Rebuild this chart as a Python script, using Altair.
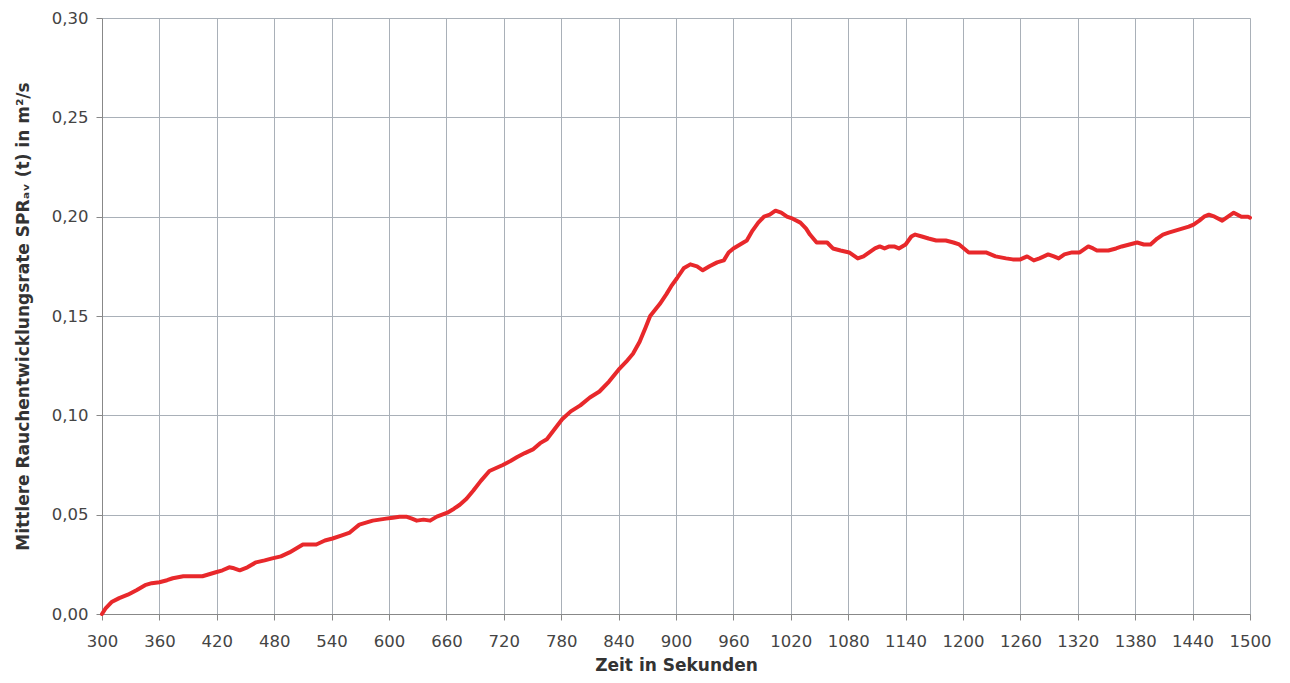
import altair as alt
import pandas as pd

# Time (s) and mean smoke production rate (m²/s)
zeit = [300, 304, 310, 318, 327, 336, 345, 352, 360, 368, 374, 385, 395, 405, 412, 419, 426, 433, 438, 444,
        452, 461, 470, 478, 487, 496, 503, 510, 517, 524, 533, 541, 550, 559, 564, 569, 576, 583, 590, 597,
        604, 611, 618, 624, 629, 636, 643, 650, 661, 668, 674, 681, 688, 696, 705, 712, 719, 727, 734, 742,
        751, 758, 765, 773, 781, 790, 800, 810, 820, 830, 840, 848, 855, 862, 868, 873, 878, 883, 890, 895,
        901, 908, 915, 922, 928, 935, 943, 950, 955, 960, 967, 974, 980, 986, 992, 998, 1004, 1010, 1016, 1022,
        1030, 1036, 1040, 1047, 1053, 1058, 1064, 1072, 1081, 1090, 1096, 1102, 1108, 1113, 1118, 1123, 1128, 1133, 1140, 1146,
        1150, 1157, 1164, 1172, 1182, 1190, 1196, 1201, 1206, 1214, 1224, 1234, 1245, 1252, 1260, 1267, 1274, 1280, 1289, 1295,
        1300, 1306, 1314, 1322, 1331, 1336, 1340, 1352, 1360, 1366, 1374, 1382, 1389, 1396, 1403, 1409, 1415, 1422, 1429, 1436,
        1441, 1447, 1452, 1457, 1463, 1471, 1477, 1483, 1487, 1491, 1498, 1500]
spr = [0.000, 0.003, 0.006, 0.008, 0.0097, 0.012, 0.0145, 0.0155, 0.016, 0.017, 0.018, 0.019, 0.019, 0.019, 0.020, 0.021, 0.022, 0.0235, 0.023, 0.022,
       0.0235, 0.026, 0.027, 0.028, 0.029, 0.031, 0.033, 0.035, 0.035, 0.035, 0.037, 0.038, 0.0395, 0.041, 0.043, 0.045, 0.046, 0.047, 0.0475, 0.048,
       0.0485, 0.049, 0.049, 0.048, 0.047, 0.0475, 0.047, 0.049, 0.051, 0.053, 0.055, 0.058, 0.062, 0.067, 0.072, 0.0735, 0.075, 0.077, 0.079, 0.081,
       0.083, 0.086, 0.088, 0.093, 0.098, 0.102, 0.105, 0.109, 0.112, 0.117, 0.123, 0.127, 0.131, 0.137, 0.144, 0.150, 0.153, 0.156, 0.161, 0.165,
       0.169, 0.174, 0.176, 0.175, 0.173, 0.175, 0.177, 0.178, 0.182, 0.184, 0.186, 0.188, 0.193, 0.197, 0.200, 0.201, 0.203, 0.202, 0.200, 0.199,
       0.197, 0.194, 0.191, 0.187, 0.187, 0.187, 0.184, 0.183, 0.182, 0.179, 0.180, 0.182, 0.184, 0.185, 0.184, 0.185, 0.185, 0.184, 0.186, 0.190,
       0.191, 0.190, 0.189, 0.188, 0.188, 0.187, 0.186, 0.184, 0.182, 0.182, 0.182, 0.180, 0.179, 0.1785, 0.1785, 0.180, 0.178, 0.179, 0.181, 0.180,
       0.179, 0.181, 0.182, 0.182, 0.185, 0.184, 0.183, 0.183, 0.184, 0.185, 0.186, 0.187, 0.186, 0.186, 0.189, 0.191, 0.192, 0.193, 0.194, 0.195,
       0.196, 0.198, 0.200, 0.201, 0.200, 0.198, 0.200, 0.202, 0.201, 0.200, 0.200, 0.1995]

x_ticks = list(range(300, 1501, 60))
y_ticks = [0.0, 0.05, 0.10, 0.15, 0.20, 0.25, 0.30]

df = pd.DataFrame({"Zeit": zeit, "SPR": spr})

FONT = "DejaVu Sans"
GRID = "#a9b0b8"

chart = alt.Chart(df).mark_line(color="#e8282b", strokeWidth=4, strokeJoin="round", strokeCap="round").encode(
    x=alt.X("Zeit:Q",
            scale=alt.Scale(domain=[300, 1500], nice=False, zero=False),
            axis=alt.Axis(values=x_ticks, format="d", title="Zeit in Sekunden", grid=True,
                          gridColor=GRID, gridWidth=1,
                          tickSize=6, tickColor="#888", domainColor="#888",
                          labelPadding=13, labelFontSize=16.5, labelColor="#444", labelFont=FONT,
                          labelFlush=False, labelOverlap=False,
                          titleFont=FONT, titleFontSize=17, titleFontWeight="bold",
                          titleColor="#333", titlePadding=8)),
    y=alt.Y("SPR:Q",
            scale=alt.Scale(domain=[0, 0.3], nice=False),
            axis=alt.Axis(values=y_ticks, title="Mittlere Rauchentwicklungsrate SPRₐᵥ (t) in m²/s",
                          labelExpr="replace(format(datum.value, '.2f'), '.', ',')",
                          grid=True, gridColor=GRID, gridWidth=1,
                          tickSize=6, tickColor="#888", domainColor="#888",
                          labelPadding=8, labelFontSize=16.5, labelColor="#444", labelFont=FONT,
                          labelOverlap=False,
                          titleFont=FONT, titleFontSize=17, titleFontWeight="bold",
                          titleColor="#333", titlePadding=19)),
).properties(
    width=1148,
    height=596,
    autosize=alt.AutoSizeParams(type="none"),
    padding={"left": 94, "top": 10, "right": 24, "bottom": 61},
).configure_view(
    stroke=GRID, strokeWidth=1
).configure(background="white")

chart.save("out.html", embed_options={"renderer": "svg", "actions": False})
